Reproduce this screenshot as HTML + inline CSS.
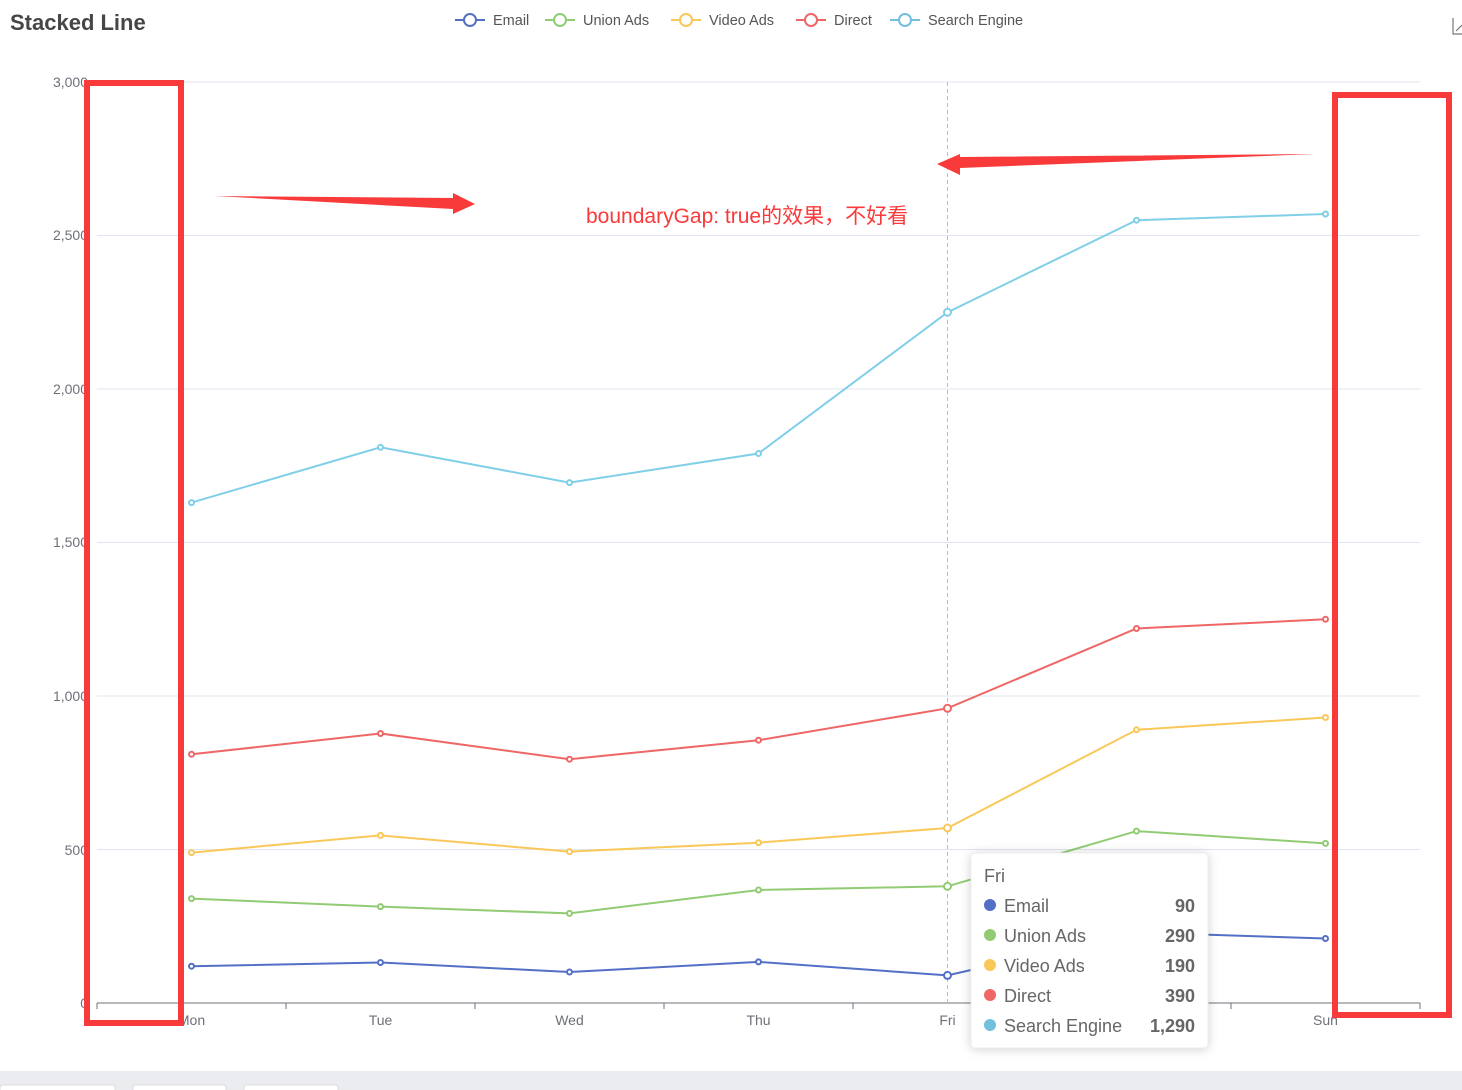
<!DOCTYPE html>
<html><head><meta charset="utf-8"><style>
html,body{margin:0;padding:0;background:#fff;width:1462px;height:1090px;overflow:hidden;font-family:"Liberation Sans","Noto Sans CJK SC",sans-serif}
</style></head><body>
<svg width="1462" height="1090" xmlns="http://www.w3.org/2000/svg" style="position:absolute;left:0;top:0;font-family:'Liberation Sans','Noto Sans CJK SC',sans-serif">
<rect x="0" y="1071" width="1462" height="19" fill="#ebecf0"/>
<rect x="0" y="1085" width="115" height="8" rx="3" fill="#fff" stroke="#ddd"/>
<rect x="133" y="1085" width="93" height="8" rx="3" fill="#fff" stroke="#ddd"/>
<rect x="244" y="1085" width="94" height="8" rx="3" fill="#fff" stroke="#ddd"/>
<text x="10" y="30" font-size="22" font-weight="bold" fill="#464646">Stacked Line</text>
<path d="M1453 18v16h10M1456 31l6-6" stroke="#777" fill="none" stroke-width="1.2"/>
<g font-size="14.5" fill="#555">
<g transform="translate(455,20)"><line x1="0" y1="0" x2="30" y2="0" stroke="#5470c6" stroke-width="2"/><circle cx="15" cy="0" r="6" fill="#fff" stroke="#5470c6" stroke-width="2"/><text x="38" y="5">Email</text></g>
<g transform="translate(545,20)"><line x1="0" y1="0" x2="30" y2="0" stroke="#91cc75" stroke-width="2"/><circle cx="15" cy="0" r="6" fill="#fff" stroke="#91cc75" stroke-width="2"/><text x="38" y="5">Union Ads</text></g>
<g transform="translate(671,20)"><line x1="0" y1="0" x2="30" y2="0" stroke="#fac858" stroke-width="2"/><circle cx="15" cy="0" r="6" fill="#fff" stroke="#fac858" stroke-width="2"/><text x="38" y="5">Video Ads</text></g>
<g transform="translate(796,20)"><line x1="0" y1="0" x2="30" y2="0" stroke="#ee6666" stroke-width="2"/><circle cx="15" cy="0" r="6" fill="#fff" stroke="#ee6666" stroke-width="2"/><text x="38" y="5">Direct</text></g>
<g transform="translate(890,20)"><line x1="0" y1="0" x2="30" y2="0" stroke="#73c0de" stroke-width="2"/><circle cx="15" cy="0" r="6" fill="#fff" stroke="#73c0de" stroke-width="2"/><text x="38" y="5">Search Engine</text></g>
</g>
<g stroke="#e0e6f1" stroke-width="1">
<line x1="97" x2="1420" y1="82" y2="82"/><line x1="97" x2="1420" y1="235.5" y2="235.5"/><line x1="97" x2="1420" y1="389" y2="389"/><line x1="97" x2="1420" y1="542.5" y2="542.5"/><line x1="97" x2="1420" y1="696" y2="696"/><line x1="97" x2="1420" y1="849.5" y2="849.5"/>
</g>
<g font-size="14" fill="#6e7079" text-anchor="end">
<text x="88" y="87">3,000</text><text x="88" y="240">2,500</text><text x="88" y="394">2,000</text><text x="88" y="547">1,500</text><text x="88" y="701">1,000</text><text x="88" y="855">500</text><text x="88" y="1008">0</text>
</g>
<line x1="97" x2="1420" y1="1003" y2="1003" stroke="#6e7079"/>
<g stroke="#6e7079"><line x1="97" x2="97" y1="1003" y2="1009"/><line x1="286" x2="286" y1="1003" y2="1009"/><line x1="475" x2="475" y1="1003" y2="1009"/><line x1="664" x2="664" y1="1003" y2="1009"/><line x1="853" x2="853" y1="1003" y2="1009"/><line x1="1042" x2="1042" y1="1003" y2="1009"/><line x1="1231" x2="1231" y1="1003" y2="1009"/><line x1="1420" x2="1420" y1="1003" y2="1009"/></g>
<g font-size="14" fill="#6e7079" text-anchor="middle">
<text x="191.5" y="1025">Mon</text><text x="380.5" y="1025">Tue</text><text x="569.5" y="1025">Wed</text><text x="758.5" y="1025">Thu</text><text x="947.5" y="1025">Fri</text><text x="1136.5" y="1025">Sat</text><text x="1325.5" y="1025">Sun</text>
</g>
<line x1="947.5" x2="947.5" y1="82" y2="1003" stroke="#b6bfcf" stroke-dasharray="4,3"/>
<g fill="#fff" stroke-width="2">
<polyline fill="none" stroke="#5470c6" points="191.5,966.2 380.5,962.5 569.5,972 758.5,961.9 947.5,975.4 1136.5,932.4 1325.5,938.5"/>
<polyline fill="none" stroke="#91cc75" points="191.5,898.6 380.5,906.6 569.5,913.4 758.5,890 947.5,886.3 1136.5,831.1 1325.5,843.4"/>
<polyline fill="none" stroke="#fac858" points="191.5,852.6 380.5,835.4 569.5,851.6 758.5,842.7 947.5,828 1136.5,729.8 1325.5,717.5"/>
<polyline fill="none" stroke="#ee6666" points="191.5,754.3 380.5,733.5 569.5,759.2 758.5,740.2 947.5,708.3 1136.5,628.5 1325.5,619.3"/>
<polyline fill="none" stroke="#80cfe8" points="191.5,502.6 380.5,447.3 569.5,482.6 758.5,453.5 947.5,312.3 1136.5,220.2 1325.5,214"/>
<g stroke="#5470c6"><circle cx="191.5" cy="966.2" r="2.5"/><circle cx="380.5" cy="962.5" r="2.5"/><circle cx="569.5" cy="972" r="2.5"/><circle cx="758.5" cy="961.9" r="2.5"/><circle cx="947.5" cy="975.4" r="3.5"/><circle cx="1136.5" cy="932.4" r="2.5"/><circle cx="1325.5" cy="938.5" r="2.5"/></g>
<g stroke="#91cc75"><circle cx="191.5" cy="898.6" r="2.5"/><circle cx="380.5" cy="906.6" r="2.5"/><circle cx="569.5" cy="913.4" r="2.5"/><circle cx="758.5" cy="890" r="2.5"/><circle cx="947.5" cy="886.3" r="3.5"/><circle cx="1136.5" cy="831.1" r="2.5"/><circle cx="1325.5" cy="843.4" r="2.5"/></g>
<g stroke="#fac858"><circle cx="191.5" cy="852.6" r="2.5"/><circle cx="380.5" cy="835.4" r="2.5"/><circle cx="569.5" cy="851.6" r="2.5"/><circle cx="758.5" cy="842.7" r="2.5"/><circle cx="947.5" cy="828" r="3.5"/><circle cx="1136.5" cy="729.8" r="2.5"/><circle cx="1325.5" cy="717.5" r="2.5"/></g>
<g stroke="#ee6666"><circle cx="191.5" cy="754.3" r="2.5"/><circle cx="380.5" cy="733.5" r="2.5"/><circle cx="569.5" cy="759.2" r="2.5"/><circle cx="758.5" cy="740.2" r="2.5"/><circle cx="947.5" cy="708.3" r="3.5"/><circle cx="1136.5" cy="628.5" r="2.5"/><circle cx="1325.5" cy="619.3" r="2.5"/></g>
<g stroke="#80cfe8"><circle cx="191.5" cy="502.6" r="2.5"/><circle cx="380.5" cy="447.3" r="2.5"/><circle cx="569.5" cy="482.6" r="2.5"/><circle cx="758.5" cy="453.5" r="2.5"/><circle cx="947.5" cy="312.3" r="3.5"/><circle cx="1136.5" cy="220.2" r="2.5"/><circle cx="1325.5" cy="214" r="2.5"/></g>
</g>
<rect x="87" y="83" width="94" height="940" fill="none" stroke="#f93a3a" stroke-width="6"/>
<rect x="1335" y="95" width="114" height="920" fill="none" stroke="#f93a3a" stroke-width="6"/>
<polygon points="215,196 453,198 453,193 475,204 453,214 453,209" fill="#f93a3a"/>
<polygon points="1315,154 960,157 960,154 937,164 960,175 960,168" fill="#f93a3a"/>
<text x="586" y="223" font-size="21" fill="#f93a3a">boundaryGap: true的效果，不好看</text>
<rect x="971" y="853" width="237" height="195" rx="4" fill="#fff" stroke="#eee" style="filter:drop-shadow(0 1px 5px rgba(0,0,0,.18))"/>
<g font-size="18" fill="#666">
<text x="984" y="882">Fri</text>
<circle cx="990" cy="905" r="6" fill="#5470c6"/><text x="1004" y="912">Email</text>
<circle cx="990" cy="935" r="6" fill="#91cc75"/><text x="1004" y="942">Union Ads</text>
<circle cx="990" cy="965" r="6" fill="#fac858"/><text x="1004" y="972">Video Ads</text>
<circle cx="990" cy="995" r="6" fill="#ee6666"/><text x="1004" y="1002">Direct</text>
<circle cx="990" cy="1025" r="6" fill="#73c0de"/><text x="1004" y="1032">Search Engine</text>
<g text-anchor="end" font-weight="bold"><text x="1195" y="912">90</text><text x="1195" y="942">290</text><text x="1195" y="972">190</text><text x="1195" y="1002">390</text><text x="1195" y="1032">1,290</text></g>
</g>
</svg>
</body></html>
